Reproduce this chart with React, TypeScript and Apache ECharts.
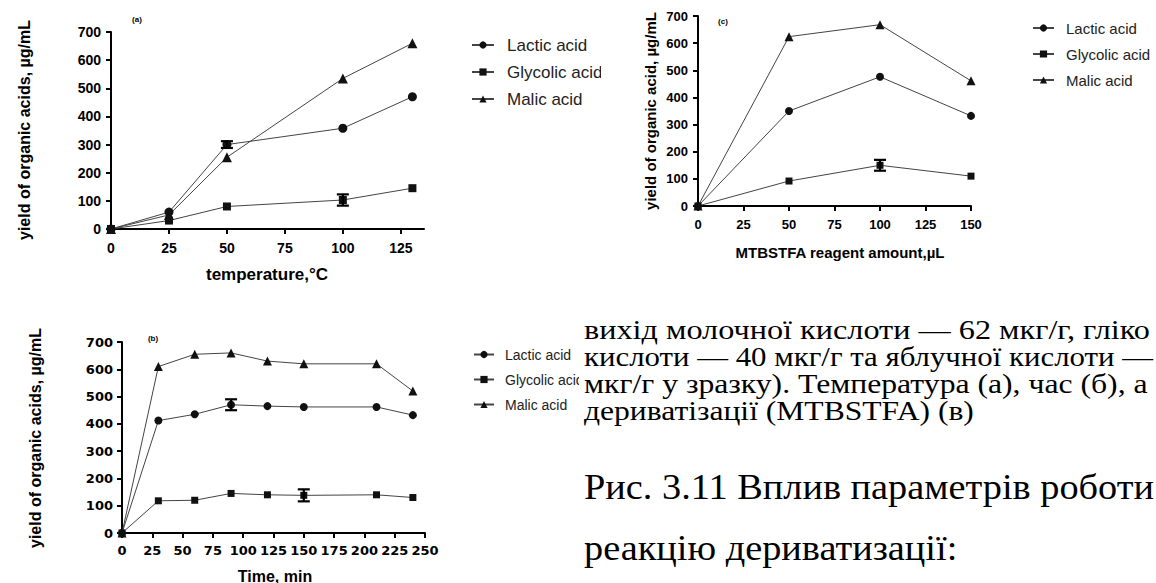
import React, { useEffect, useRef } from "react";
import * as echarts from "echarts";

// ---- Panel (a): yield vs. derivatization temperature ----
const temperature = [0, 25, 50, 100, 130];
const lacticByTemp = [0, 60, 300, 358, 470];
const glycolicByTemp = [0, 30, 80, 103, 145];
const malicByTemp = [0, 50, 255, 535, 660];
// [x, mean, sd]
const tempErrors = [
  [50, 300, 12],
  [100, 103, 20],
];
const tempTicks = [0, 25, 50, 75, 100, 125];

// ---- Panel (b): yield vs. derivatization time ----
const timeMin = [0, 30, 60, 90, 120, 150, 210, 240];
const lacticByTime = [0, 412, 435, 470, 465, 462, 462, 432];
const glycolicByTime = [0, 118, 120, 145, 140, 138, 140, 130];
const malicByTime = [0, 610, 655, 660, 630, 620, 620, 520];
const timeErrors = [
  [90, 470, 20],
  [150, 138, 22],
];

// ---- Panel (c): yield vs. MTBSTFA amount ----
const reagentUL = [0, 50, 100, 150];
const lacticByReagent = [0, 350, 476, 332];
const glycolicByReagent = [0, 92, 150, 110];
const malicByReagent = [0, 624, 668, 461];
const reagentErrors = [[100, 150, 20]];

const acidNames = ["Lactic acid", "Glycolic acid", "Malic acid"];
const acidSymbols = ["circle", "rect", "triangle"];

// Paragraph text to the right of panel (b)
const bodyLines = [
  "вихід молочної кислоти — 62 мкг/г, гліко",
  "кислоти — 40 мкг/г та яблучної кислоти —",
  "мкг/г у зразку). Температура (а), час (б), а",
  "дериватізації (MTBSTFA) (в)",
];
// right edge each full line runs out to (0 = closing line of the paragraph)
const bodyLineEnds = [1150, 1153, 1148, 0];
const captionLines = ["Рис. 3.11 Вплив параметрів роботи", "реакцію дериватизації:"];
const captionLineEnds = [1154, 0];

const SANS = '"Liberation Sans", Arial, sans-serif';
const WIDE = '"DejaVu Sans", sans-serif';
const SERIF = '"Liberation Serif", "Times New Roman", serif';

const zip = (xs: number[], ys: number[]) => xs.map((x, i) => [x, ys[i]]);

let measureCtx: CanvasRenderingContext2D | null = null;
function textWidth(s: string, font: string) {
  if (!measureCtx) measureCtx = document.createElement("canvas").getContext("2d");
  if (!measureCtx) return s.length * 10;
  measureCtx.font = font;
  return measureCtx.measureText(s).width;
}

function axisStyle(fontFamily: string, fontSize: number, margin: number) {
  return {
    axisLine: { show: true, onZero: false, lineStyle: { color: "#000", width: 2 } },
    axisTick: { show: true, length: 5, lineStyle: { color: "#000", width: 2 } },
    axisLabel: { color: "#000", fontWeight: "bold", fontFamily, fontSize, margin },
    splitLine: { show: false },
  };
}

function lineSeries(idx: number, xs: number[], groups: number[][], sizes: number[]) {
  return groups.map((ys, k) => ({
    type: "line",
    name: acidNames[k],
    xAxisIndex: idx,
    yAxisIndex: idx,
    data: zip(xs, ys),
    symbol: acidSymbols[k],
    symbolSize: sizes[k],
    showSymbol: true,
    lineStyle: { color: "#444", width: 1 },
    itemStyle: { color: "#111" },
    z: 3,
  }));
}

function errorSeries(idx: number, errs: number[][], cap: number) {
  return {
    type: "custom",
    xAxisIndex: idx,
    yAxisIndex: idx,
    data: errs.map(([x, m, sd]) => [x, m - sd, m + sd]),
    encode: { x: 0, y: [1, 2] },
    clip: false,
    z: 4,
    silent: true,
    renderItem: (_p: any, api: any) => {
      const x = api.value(0);
      const lo = api.coord([x, api.value(1)]);
      const hi = api.coord([x, api.value(2)]);
      const st = { stroke: "#000", lineWidth: 2.2 };
      return {
        type: "group",
        children: [
          { type: "line", shape: { x1: lo[0], y1: lo[1], x2: hi[0], y2: hi[1] }, style: st },
          { type: "line", shape: { x1: lo[0] - cap, y1: lo[1], x2: lo[0] + cap, y2: lo[1] }, style: st },
          { type: "line", shape: { x1: hi[0] - cap, y1: hi[1], x2: hi[0] + cap, y2: hi[1] }, style: st },
        ],
      };
    },
  };
}

function legend(left: number, top: number, fontSize: number, gap: number, pad: number, itemWidth: number) {
  return {
    orient: "vertical",
    left,
    top,
    padding: 0,
    data: acidNames,
    itemWidth,
    itemHeight: 9,
    itemGap: gap,
    selectedMode: false,
    textStyle: {
      color: "#222",
      fontFamily: SANS,
      fontSize,
      lineHeight: fontSize + 1,
      padding: [0, 0, 0, pad],
    },
  };
}

function label(text: string, x: number, y: number, font: string, rotate = false) {
  return {
    type: "text",
    x,
    y,
    rotation: rotate ? Math.PI / 2 : 0,
    silent: true,
    style: {
      text,
      font,
      fill: "#000",
      align: "center",
      verticalAlign: "middle",
      textAlign: "center",
      textVerticalAlign: "middle",
    },
  };
}

// Serif paragraph lines: each full line is widened horizontally so it runs out
// to its right edge; the closing line of a paragraph takes the mean width factor.
function paragraph(lines: string[], ends: number[], x: number, y0: number, step: number, font: string) {
  const scales = lines.map((t, i) => (ends[i] ? (ends[i] - x) / textWidth(t, font) : 0));
  const full = scales.filter((s) => s > 0);
  const mean = full.reduce((a, b) => a + b, 0) / Math.max(1, full.length);
  return lines.map((t, i) => ({
    type: "text",
    x,
    y: y0 + i * step,
    scaleX: scales[i] || mean,
    z: 101,
    silent: true,
    style: {
      text: t,
      font,
      fill: "#000",
      align: "left",
      verticalAlign: "middle",
      textAlign: "left",
      textVerticalAlign: "middle",
    },
  }));
}

export default function App() {
  const ref = useRef<HTMLDivElement>(null);

  useEffect(() => {
    if (!ref.current) return;
    const chart = echarts.init(ref.current, null, { renderer: "svg" });

    const textLeft = 584;

    const option: any = {
      animation: false,
      backgroundColor: "#fff",
      grid: [
        { left: 111, top: 32, width: 313, height: 197 },
        { left: 122, top: 342, width: 303, height: 191 },
        { left: 698, top: 16, width: 273, height: 190 },
      ],
      xAxis: [
        {
          type: "value",
          gridIndex: 0,
          min: 0,
          max: 135,
          interval: 25,
          ...axisStyle(SANS, 14, 12),
          axisLabel: { ...axisStyle(SANS, 14, 12).axisLabel, customValues: tempTicks },
          axisTick: { ...axisStyle(SANS, 14, 12).axisTick, customValues: tempTicks },
        },
        { type: "value", gridIndex: 1, min: 0, max: 250, interval: 25, ...axisStyle(WIDE, 13, 11) },
        { type: "value", gridIndex: 2, min: 0, max: 150, interval: 25, ...axisStyle(SANS, 13, 12) },
      ],
      yAxis: [
        { type: "value", gridIndex: 0, min: 0, max: 700, interval: 100, ...axisStyle(SANS, 14, 10) },
        { type: "value", gridIndex: 1, min: 0, max: 700, interval: 100, ...axisStyle(WIDE, 13, 9) },
        { type: "value", gridIndex: 2, min: 0, max: 700, interval: 100, ...axisStyle(SANS, 13, 10) },
      ],
      legend: [
        legend(471, 36, 17, 9, 8, 22),
        legend(473, 347, 14, 10, 6, 20),
        legend(1032, 20, 15, 10, 7, 21),
      ],
      series: [
        ...lineSeries(0, temperature, [lacticByTemp, glycolicByTemp, malicByTemp], [9, 8, 10]),
        errorSeries(0, tempErrors, 6),
        ...lineSeries(1, timeMin, [lacticByTime, glycolicByTime, malicByTime], [8, 7, 9]),
        errorSeries(1, timeErrors, 6),
        ...lineSeries(2, reagentUL, [lacticByReagent, glycolicByReagent, malicByReagent], [8, 7, 9]),
        errorSeries(2, reagentErrors, 6),
      ],
      graphic: [
        // panel (a)
        label("yield of organic acids, µg/mL", 24, 130, `bold 16px ${SANS}`, true),
        label("temperature,°C", 267, 274, `bold 17px ${SANS}`),
        label("(a)", 137, 19, `bold 8px ${SANS}`),
        // panel (b)
        label("yield of organic acids, µg/mL", 35, 438, `bold 16px ${SANS}`, true),
        label("Time, min", 275, 576, `bold 16px ${SANS}`),
        label("(b)", 153, 338, `bold 8px ${SANS}`),
        // panel (c)
        label("yield of organic acid, µg/mL", 650, 111, `bold 15px ${SANS}`, true),
        label("MTBSTFA reagent amount,µL", 840, 252, `bold 15px ${SANS}`),
        label("(c)", 723, 21, `bold 8px ${SANS}`),
        // white page areas that trim the legend texts
        { type: "rect", z: 100, silent: true, shape: { x: 601, y: 55, width: 36, height: 30 }, style: { fill: "#fff" } },
        { type: "rect", z: 100, silent: true, shape: { x: 579, y: 300, width: 577, height: 283 }, style: { fill: "#fff" } },
        // paragraph and figure caption
        ...paragraph(bodyLines, bodyLineEnds, textLeft, 330, 26.7, `28px ${SERIF}`),
        ...paragraph(captionLines, captionLineEnds, textLeft, 487, 61, `36px ${SERIF}`),
      ],
    };

    chart.setOption(option);
    return () => chart.dispose();
  }, []);

  return (
    <div
      ref={ref}
      style={{ position: "fixed", left: 0, top: 0, width: 1156, height: 583, background: "#fff" }}
    />
  );
}
